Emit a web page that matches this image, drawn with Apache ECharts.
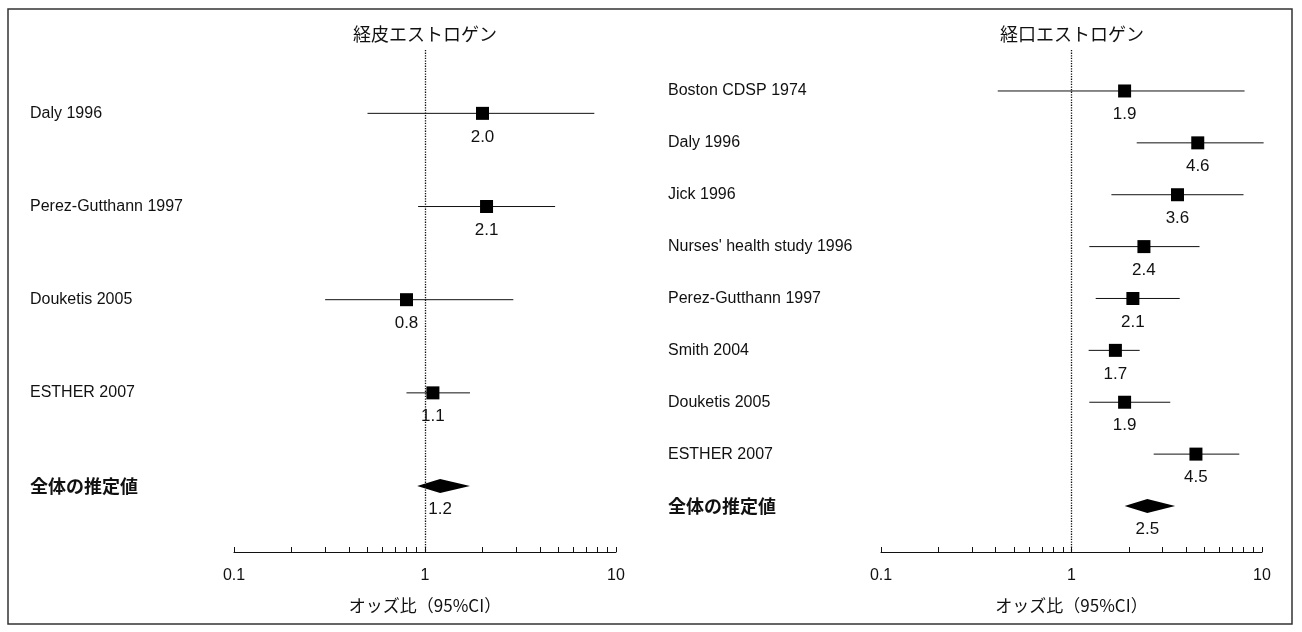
<!DOCTYPE html>
<html lang="ja">
<head>
<meta charset="UTF-8">
<title>経皮・経口エストロゲンのオッズ比</title>
<script src="https://cdn.jsdelivr.net/npm/echarts@6/dist/echarts.min.js"></script>
<style>
    html, body {
        margin: 0;
        padding: 0;
        background: #fff;
    }
    #chart {
        width: 1302px;
        height: 632px;
    }
</style>
</head>
<body>
<div id="chart"></div>
<script>
    // 経皮エストロゲン
    var tdNames = ['Daly 1996', 'Perez-Gutthann 1997', 'Douketis 2005', 'ESTHER 2007', '全体の推定値'];
    var tdOR    = [2.0, 2.1, 0.8, 1.1, 1.2];
    var tdLow   = [0.50, 0.92, 0.30, 0.80, 0.91];
    var tdHigh  = [7.7, 4.8, 2.9, 1.72, 1.72];

    // 経口エストロゲン
    var oeNames = ['Boston CDSP 1974', 'Daly 1996', 'Jick 1996', "Nurses' health study 1996",
                   'Perez-Gutthann 1997', 'Smith 2004', 'Douketis 2005', 'ESTHER 2007', '全体の推定値'];
    var oeOR    = [1.9, 4.6, 3.6, 2.4, 2.1, 1.7, 1.9, 4.5, 2.5];
    var oeLow   = [0.41, 2.2, 1.62, 1.24, 1.34, 1.23, 1.24, 2.7, 1.9];
    var oeHigh  = [8.1, 10.2, 8.0, 4.7, 3.7, 2.28, 3.3, 7.6, 3.5];

    // 対数軸の目盛
    var tickVals  = [0.1, 0.2, 0.3, 0.4, 0.5, 0.6, 0.7, 0.8, 0.9, 1, 2, 3, 4, 5, 6, 7, 8, 9, 10];
    var labelVals = [0.1, 1, 10];

    var latin = 'Liberation Sans, Arial, Noto Sans CJK JP, sans-serif';
    var cjk = 'Noto Sans CJK JP, sans-serif';

    function rows(or, low, high) {
        // [推定値, 行, 下限, 上限, 全体かどうか]
        return or.map(function (v, i) {
            return [v, i, low[i], high[i], i === or.length - 1 ? 1 : 0];
        });
    }

    function renderForest(params, api) {
        var row = api.value(1);
        var p = api.coord([api.value(0), row]);
        var lo = api.coord([api.value(2), row]);
        var hi = api.coord([api.value(3), row]);
        var children = [];
        if (api.value(4) === 1) {
            children.push({
                type: 'polygon',
                shape: { points: [[lo[0], p[1]], [p[0], p[1] - 7], [hi[0], p[1]], [p[0], p[1] + 7]] },
                style: { fill: '#000' }
            });
        } else {
            children.push({
                type: 'line',
                shape: { x1: lo[0], y1: p[1], x2: hi[0], y2: p[1] },
                style: { stroke: '#111', lineWidth: 1 }
            });
            children.push({
                type: 'rect',
                shape: { x: p[0] - 6.5, y: p[1] - 6.5, width: 13, height: 13 },
                style: { fill: '#000' }
            });
        }
        children.push({
            type: 'text',
            x: p[0],
            y: p[1] + 15,
            style: {
                text: api.value(0).toFixed(1),
                font: '17px ' + latin,
                fill: '#111',
                align: 'center',
                verticalAlign: 'top'
            }
        });
        return { type: 'group', children: children };
    }

    function xAxisFor(gridIndex) {
        return {
            type: 'log',
            logBase: 10,
            gridIndex: gridIndex,
            min: 0.1,
            max: 10,
            name: 'オッズ比（95%CI）',
            nameLocation: 'middle',
            nameGap: 45,
            nameTextStyle: { fontFamily: cjk, fontSize: 17, color: '#111' },
            axisLine: { onZero: false, lineStyle: { color: '#111', width: 1 } },
            axisTick: { customValues: tickVals, inside: true, length: 5, lineStyle: { color: '#111' } },
            axisLabel: { customValues: labelVals, fontFamily: latin, fontSize: 16, color: '#111', margin: 16 },
            splitLine: { show: false }
        };
    }

    function yAxisFor(gridIndex, names, min, max, margin) {
        return {
            type: 'value',
            gridIndex: gridIndex,
            inverse: true,
            min: min,
            max: max,
            axisLine: { show: false },
            axisTick: { show: false },
            splitLine: { show: false },
            axisLabel: {
                customValues: names.map(function (n, i) { return i; }),
                align: 'left',
                margin: margin,
                fontFamily: latin,
                fontSize: 16,
                color: '#111',
                formatter: function (v) {
                    var n = names[v];
                    return /[^\x00-\x7f]/.test(n) ? '{j|' + n + '}' : n;
                },
                rich: { j: { fontFamily: cjk, fontSize: 18, fontWeight: 'bold', color: '#111' } }
            }
        };
    }

    var refLine = {
        silent: true,
        symbol: 'none',
        label: { show: false },
        lineStyle: { type: 'dotted', color: '#111', width: 1.3 },
        data: [{ xAxis: 1 }]
    };

    var option = {
        backgroundColor: '#fff',
        animation: false,
        grid: [
            { left: 234, width: 382, top: 50, bottom: 80 },
            { left: 881, width: 381, top: 50, bottom: 80 }
        ],
        xAxis: [xAxisFor(0), xAxisFor(1)],
        yAxis: [
            yAxisFor(0, tdNames, -0.68, 4.708, 204),
            yAxisFor(1, oeNames, -0.79, 8.887, 213)
        ],
        graphic: [
            {
                type: 'rect',
                shape: { x: 8, y: 9, width: 1284, height: 615 },
                style: { fill: 'none', stroke: '#333', lineWidth: 1.5 }
            },
            {
                type: 'text', x: 425, y: 34,
                style: { text: '経皮エストロゲン', font: '18px ' + cjk, fill: '#111', align: 'center', verticalAlign: 'middle' }
            },
            {
                type: 'text', x: 1072, y: 34,
                style: { text: '経口エストロゲン', font: '18px ' + cjk, fill: '#111', align: 'center', verticalAlign: 'middle' }
            }
        ],
        series: [
            {
                type: 'custom',
                name: '経皮エストロゲン',
                xAxisIndex: 0,
                yAxisIndex: 0,
                renderItem: renderForest,
                encode: { x: [0, 2, 3], y: 1 },
                data: rows(tdOR, tdLow, tdHigh),
                markLine: refLine,
                clip: false
            },
            {
                type: 'custom',
                name: '経口エストロゲン',
                xAxisIndex: 1,
                yAxisIndex: 1,
                renderItem: renderForest,
                encode: { x: [0, 2, 3], y: 1 },
                data: rows(oeOR, oeLow, oeHigh),
                markLine: refLine,
                clip: false
            }
        ]
    };

    var chart = echarts.init(document.getElementById('chart'));
    chart.setOption(option);
</script>
</body>
</html>
